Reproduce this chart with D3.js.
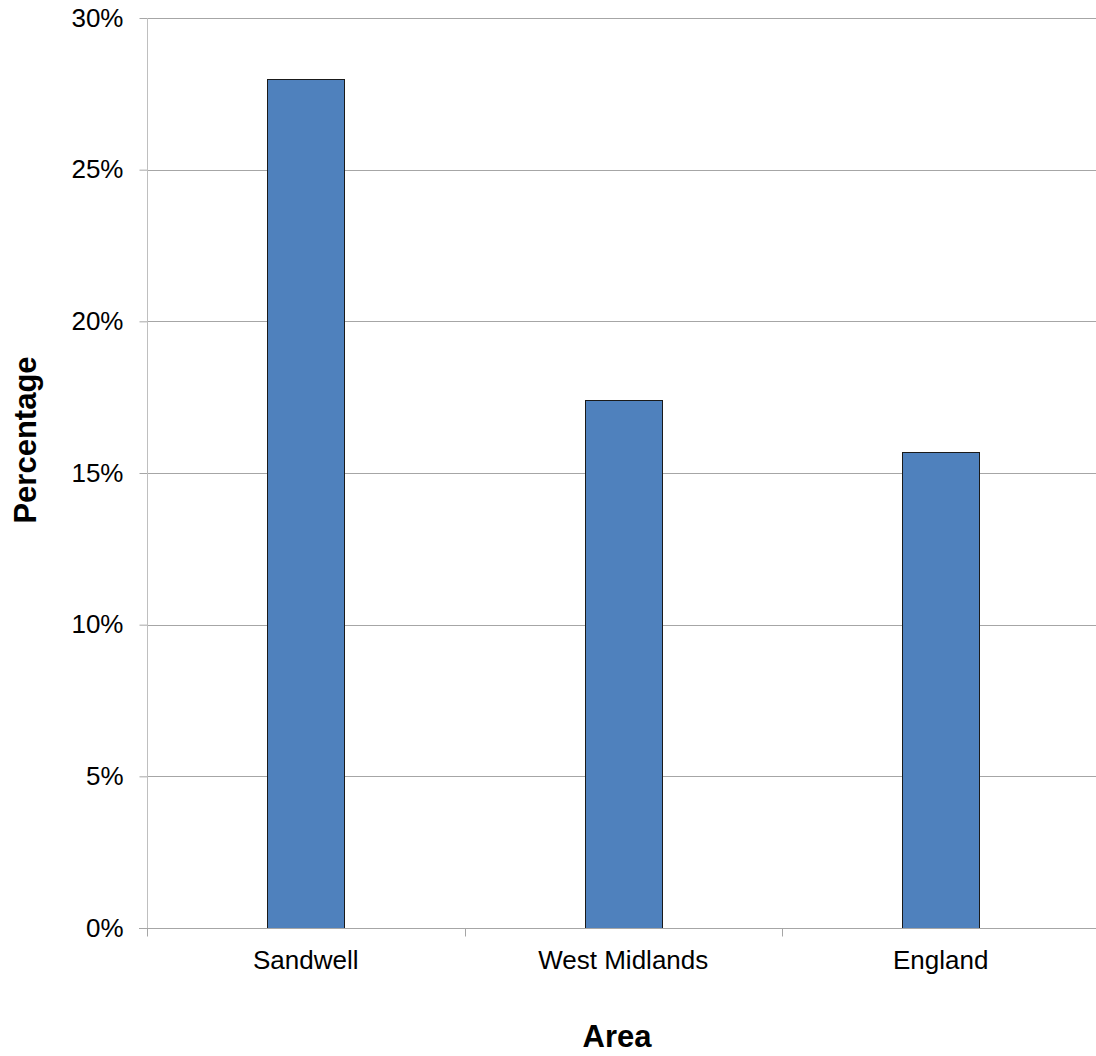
<!DOCTYPE html>
<html><head><meta charset="utf-8">
<script src="https://cdn.jsdelivr.net/npm/d3@7"></script>
<style>body{margin:0;background:#fff}svg{display:block}</style>
</head><body><svg id="c" width="1096" height="1056"></svg>
<script>
const categories = ["Sandwell", "West Midlands", "England"];
const values = [0.28, 0.174, 0.157];
const yTicks = [0, 0.05, 0.10, 0.15, 0.20, 0.25, 0.30];
const yTitle = "Percentage";
const xTitle = "Area";

const svg = d3.select("#c");
const L = 147, R = 1099.5, T = 18, B = 928;
const font = "'Liberation Sans', Arial, sans-serif";
const x = d3.scaleBand().domain(categories).range([L, R]).paddingInner(0).paddingOuter(0);
const y = d3.scaleLinear().domain([0, 0.30]).range([B, T]);

// gridlines
svg.append("g").selectAll("line").data(yTicks.filter(d => d > 0)).join("line")
  .attr("x1", L).attr("x2", 1096)
  .attr("y1", d => Math.round(y(d)) + 0.5).attr("y2", d => Math.round(y(d)) + 0.5)
  .attr("stroke", "#a6a6a6").attr("stroke-width", 1);

// y axis
const yAxis = d3.axisLeft(y).tickValues(yTicks).tickFormat(d3.format(".0%")).tickSize(8).tickPadding(16);
const gy = svg.append("g").attr("transform", `translate(${L + 0.5},0)`).call(yAxis);
gy.select(".domain").remove();
gy.selectAll(".tick line").attr("stroke", "#a6a6a6");
gy.selectAll(".tick text").attr("font-family", font).attr("font-size", 26).attr("fill", "#000");
gy.append("line").attr("x1", 0).attr("x2", 0).attr("y1", T).attr("y2", B + 8).attr("stroke", "#bfbfbf");

// bars
const bw = 77;
svg.append("g").selectAll("rect").data(values).join("rect")
  .attr("x", (d, i) => Math.round(x(categories[i]) + x.bandwidth() / 2 - bw / 2) + 0.5)
  .attr("y", d => Math.round(y(d)) + 0.5)
  .attr("width", bw)
  .attr("height", d => B - Math.round(y(d)))
  .attr("fill", "#4f81bd").attr("stroke", "#1a1a1a").attr("stroke-width", 1);

// x axis
const gx = svg.append("g").attr("transform", `translate(0,${B + 0.5})`);
gx.append("line").attr("x1", L - 8).attr("x2", 1096).attr("y1", 0).attr("y2", 0).attr("stroke", "#a6a6a6");
const bounds = [L, ...categories.map(c => x(c) + x.bandwidth())];
gx.selectAll("line.tk").data(bounds).join("line").attr("class", "tk")
  .attr("x1", d => Math.round(d) + 0.5).attr("x2", d => Math.round(d) + 0.5)
  .attr("y1", 0).attr("y2", 8).attr("stroke", "#a6a6a6");
gx.selectAll("text").data(categories).join("text")
  .attr("x", d => x(d) + x.bandwidth() / 2).attr("y", 40)
  .attr("text-anchor", "middle").attr("font-family", font).attr("font-size", 26).attr("fill", "#000")
  .text(d => d);

// titles
svg.append("text").attr("transform", "translate(36,440) rotate(-90)")
  .attr("text-anchor", "middle").attr("font-family", font).attr("font-weight", "bold").attr("font-size", 31)
  .text(yTitle);
svg.append("text").attr("x", 617).attr("y", 1047)
  .attr("text-anchor", "middle").attr("font-family", font).attr("font-weight", "bold").attr("font-size", 31)
  .text(xTitle);
</script></body></html>
